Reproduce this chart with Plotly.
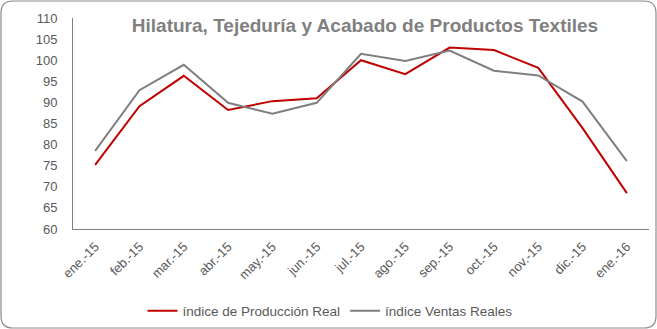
import plotly.graph_objects as go

months = ["ene.-15", "feb.-15", "mar.-15", "abr.-15", "may.-15", "jun.-15", "jul.-15",
          "ago.-15", "sep.-15", "oct.-15", "nov.-15", "dic.-15", "ene.-16"]
produccion = [75.2, 89.1, 96.3, 88.2, 90.3, 91.0, 100.0, 96.7, 103.0, 102.4, 98.2, 83.9, 68.5]
ventas = [78.5, 92.9, 98.9, 89.9, 87.3, 89.9, 101.5, 99.8, 102.3, 97.5, 96.4, 90.2, 76.1]
y_ticks = list(range(60, 111, 5))

W, H = 657, 329
L, R, T, B = 73, 8, 18, 100
pw, ph = W - L - R, H - T - B

def px(x):
    return (x - L) / pw

def py(y):
    return (H - B - y) / ph

fig = go.Figure()
fig.add_trace(go.Scatter(x=months, y=produccion, mode="lines", name="índice de Producción Real",
                         line=dict(color="#C00000", width=2)))
fig.add_trace(go.Scatter(x=months, y=ventas, mode="lines", name="índice Ventas Reales",
                         line=dict(color="#7F7F7F", width=2)))

# rounded border
x0, x1, y0, y1, r = 1, 656, 1, 328, 12
path = (f"M {px(x0+r)},{py(y0)} L {px(x1-r)},{py(y0)} Q {px(x1)},{py(y0)} {px(x1)},{py(y0+r)} "
        f"L {px(x1)},{py(y1-r)} Q {px(x1)},{py(y1)} {px(x1-r)},{py(y1)} "
        f"L {px(x0+r)},{py(y1)} Q {px(x0)},{py(y1)} {px(x0)},{py(y1-r)} "
        f"L {px(x0)},{py(y0+r)} Q {px(x0)},{py(y0)} {px(x0+r)},{py(y0)} Z")
fig.add_shape(type="path", path=path, xref="paper", yref="paper",
              line=dict(color="#8C8C8C", width=1.2), layer="below")

fig.update_layout(
    width=W, height=H,
    margin=dict(l=L, r=R, t=T, b=B, autoexpand=False),
    paper_bgcolor="white", plot_bgcolor="white",
    font=dict(family="Liberation Sans, Arial, sans-serif", color="#595959", size=13),
    title=dict(text="<b>Hilatura, Tejeduría y Acabado de Productos Textiles</b>",
               x=px(365), xref="paper", xanchor="center", y=1 - 25 / H, yanchor="middle",
               font=dict(size=19, color="#808080")),
    showlegend=True,
    legend=dict(orientation="h", x=px(330), xanchor="center", y=py(311), yanchor="middle",
                font=dict(size=13.5, color="#595959"), itemwidth=30, tracegroupgap=0,
                bgcolor="rgba(0,0,0,0)"),
    hovermode=False,
)
fig.update_xaxes(type="category", showgrid=False, showline=True, linecolor="#808080", linewidth=1,
                 tickangle=-45, ticks="", tickfont=dict(size=13, color="#595959"),
                 range=[-0.5, len(months) - 0.5], automargin=False, ticklabelstandoff=4)
fig.update_yaxes(range=[60, 110], tickvals=y_ticks, showgrid=False, showline=True,
                 linecolor="#808080", linewidth=1, ticks="", zeroline=False, automargin=False,
                 tickfont=dict(size=13, color="#595959"), ticklabelstandoff=12)

fig.write_html("out.html")
